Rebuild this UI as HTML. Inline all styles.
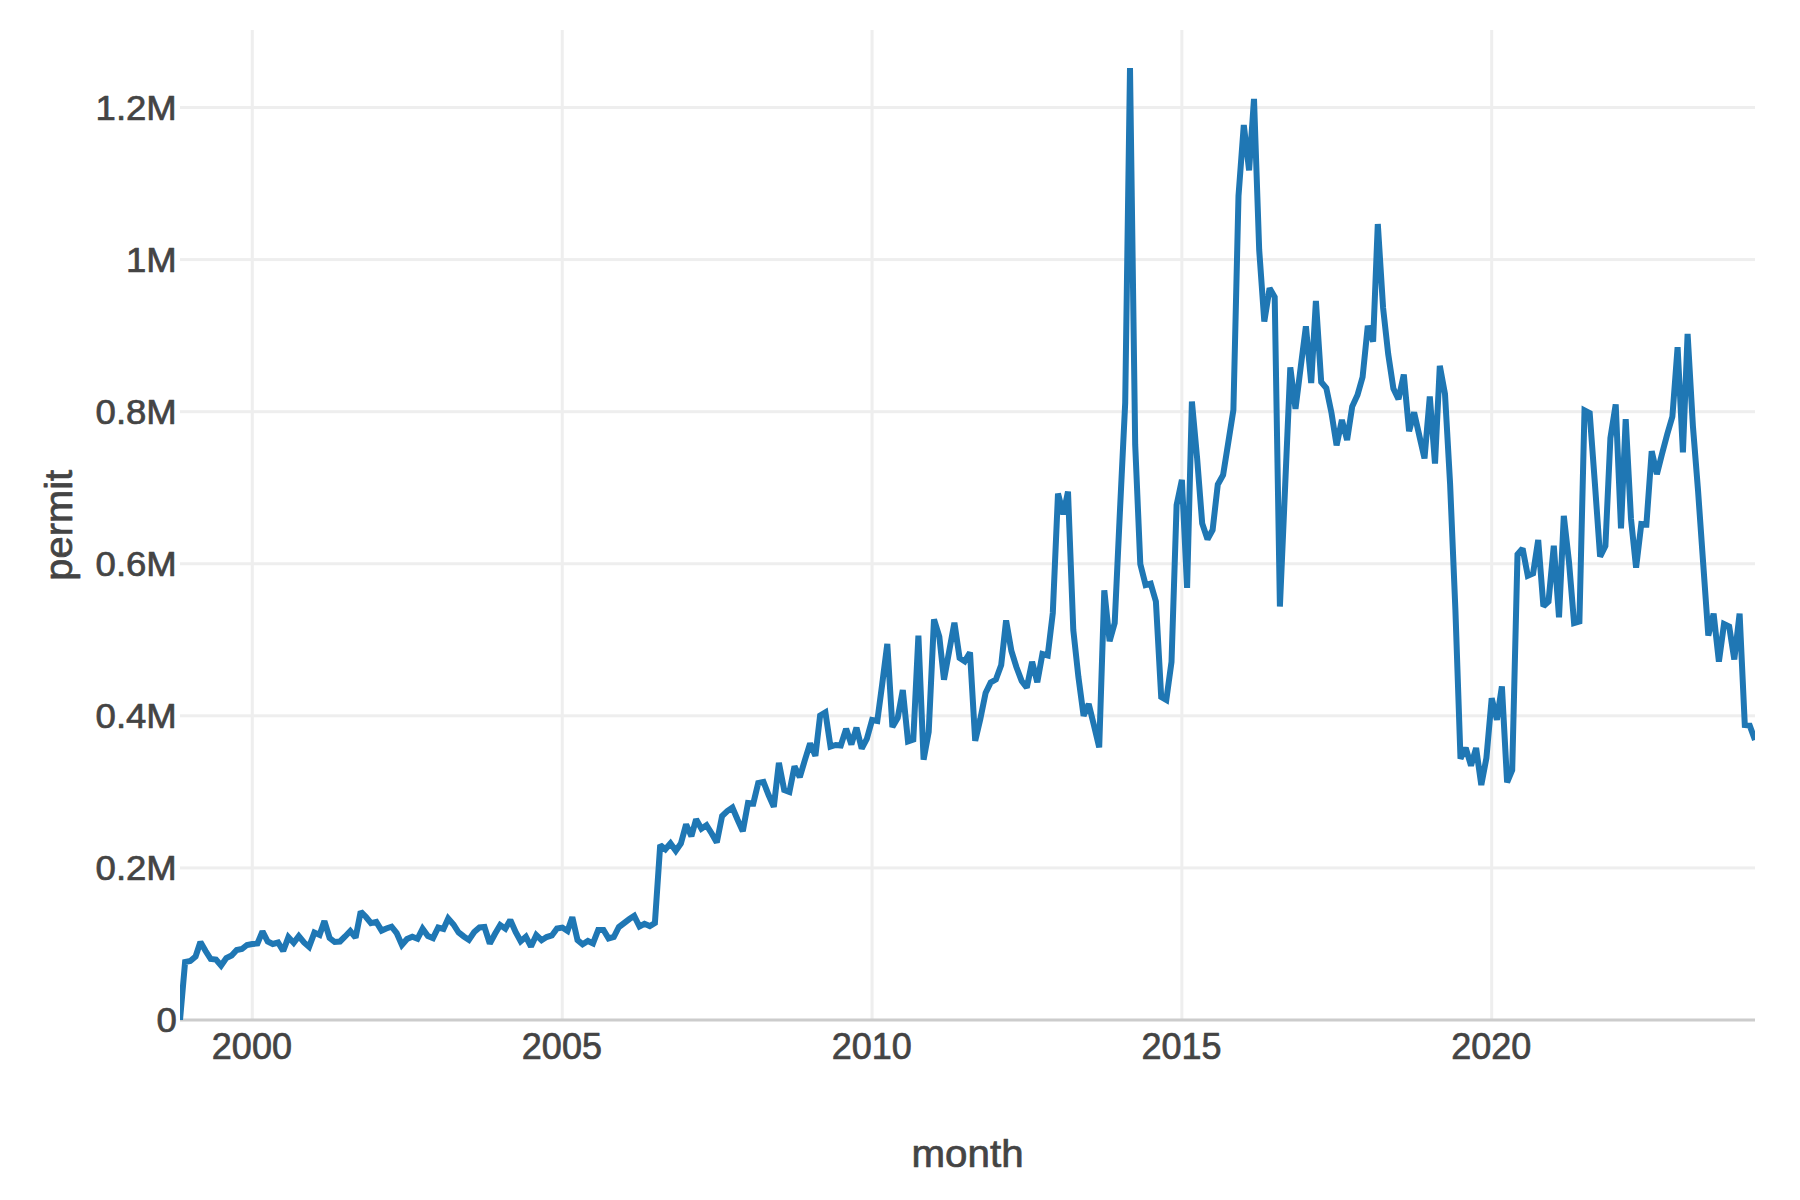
<!DOCTYPE html>
<html><head><meta charset="utf-8"><title>permit by month</title>
<style>
html,body{margin:0;padding:0;background:#fff;}
body{width:1800px;height:1200px;overflow:hidden;}
svg{display:block;}
text{font-family:"Liberation Sans",Arial,Helvetica,sans-serif;fill:#444;stroke:#444;stroke-width:0.7px;stroke-linejoin:round;}
.tick text{font-size:36px;}
.title text{font-size:39px;}
</style></head><body>
<svg width="1800" height="1200" viewBox="0 0 1800 1200">
<rect width="1800" height="1200" fill="#fff"/>
<g class="grid"><rect x="250.78" y="30" width="3" height="990" fill="#eee"/><rect x="560.76" y="30" width="3" height="990" fill="#eee"/><rect x="870.56" y="30" width="3" height="990" fill="#eee"/><rect x="1180.37" y="30" width="3" height="990" fill="#eee"/><rect x="1490.18" y="30" width="3" height="990" fill="#eee"/><rect x="180" y="866.42" width="1575" height="3" fill="#eee"/><rect x="180" y="714.33" width="1575" height="3" fill="#eee"/><rect x="180" y="562.25" width="1575" height="3" fill="#eee"/><rect x="180" y="410.17" width="1575" height="3" fill="#eee"/><rect x="180" y="258.08" width="1575" height="3" fill="#eee"/><rect x="180" y="106.00" width="1575" height="3" fill="#eee"/></g>
<rect x="180" y="1018.5" width="1575" height="3" fill="#ccc"/>
<defs><clipPath id="c"><rect x="180" y="30" width="1575" height="990"/></clipPath></defs>
<g clip-path="url(#c)"><polyline fill="none" stroke="#1f77b4" stroke-width="6" stroke-linejoin="miter" stroke-miterlimit="2" points="180.0,1020.0 185.1,962.0 190.3,961.0 195.6,956.5 200.4,942.0 205.6,951.0 210.7,959.0 216.0,959.5 221.1,965.5 226.3,958.0 231.6,955.5 236.7,950.0 241.9,949.0 247.0,945.0 252.3,944.0 257.5,943.5 262.5,931.4 267.7,941.5 272.8,944.0 278.1,942.5 283.2,951.0 288.4,937.1 293.7,942.9 298.8,936.2 304.0,942.5 309.1,946.9 314.4,932.6 319.6,935.0 324.4,921.1 329.6,938.0 334.7,942.0 340.0,941.5 345.1,936.5 350.3,931.0 355.6,937.6 360.7,911.6 366.0,917.0 371.0,923.1 376.3,921.9 381.6,930.6 386.3,928.5 391.6,926.7 396.7,933.0 401.9,945.0 407.0,939.0 412.3,936.8 417.5,938.8 422.6,928.8 427.9,936.0 433.0,938.1 438.2,927.5 443.5,929.0 448.2,918.5 453.5,924.5 458.6,932.5 463.8,936.5 468.9,939.9 474.2,932.0 479.5,927.5 484.5,927.0 489.8,943.6 494.9,934.0 500.2,925.0 505.4,928.6 510.3,920.0 515.6,932.0 520.7,941.3 525.9,936.8 531.0,946.6 536.3,935.1 541.6,940.2 546.6,937.0 551.9,935.5 557.0,928.5 562.3,927.6 567.5,931.0 572.3,917.2 577.5,940.0 582.6,944.3 587.9,941.0 593.0,943.4 598.2,930.0 603.5,930.0 608.6,938.5 613.8,937.0 618.9,927.0 624.2,923.0 629.4,919.0 634.2,915.9 639.5,926.5 644.5,923.8 649.8,926.1 654.9,923.0 660.2,845.0 665.4,849.3 670.5,843.4 675.8,850.8 680.9,843.5 686.1,824.4 691.4,836.3 696.1,819.2 701.4,828.7 706.5,825.2 711.7,833.5 716.8,842.5 722.1,816.0 727.3,811.0 732.4,807.5 737.7,820.0 742.8,831.2 748.0,803.0 753.3,803.5 758.2,783.0 763.5,782.0 768.6,795.0 773.8,806.8 778.9,762.8 784.2,790.0 789.4,792.0 794.5,766.4 799.8,777.2 804.9,760.0 810.1,743.4 815.4,755.9 820.1,715.5 825.4,712.4 830.5,746.6 835.8,745.0 840.8,745.5 846.1,728.8 851.4,744.5 856.5,727.6 861.7,748.6 866.8,739.0 872.1,720.0 877.3,721.0 882.1,685.0 887.3,643.9 892.4,727.0 897.7,718.0 902.8,690.0 908.0,741.4 913.3,739.5 918.4,635.6 923.6,759.6 928.7,732.0 934.0,619.4 939.3,636.5 944.0,679.6 949.3,650.5 954.4,622.8 959.6,658.0 964.7,661.3 970.0,652.5 975.2,740.8 980.3,719.0 985.6,693.0 990.7,682.5 995.9,679.5 1001.2,665.0 1006.1,620.4 1011.4,651.0 1016.4,667.0 1021.7,681.0 1026.8,687.7 1032.1,661.8 1037.3,682.2 1042.4,654.0 1047.7,655.5 1052.8,613.0 1058.0,493.6 1063.3,514.2 1068.0,491.6 1073.3,630.0 1078.4,677.0 1083.6,715.8 1088.7,704.0 1094.0,725.5 1099.2,747.3 1104.3,590.3 1109.6,641.2 1114.7,623.0 1119.9,512.0 1125.2,403.0 1130.0,68.0 1135.2,445.0 1140.3,564.0 1145.6,585.0 1150.7,583.6 1155.9,601.5 1161.2,697.0 1166.3,700.0 1171.5,662.0 1176.6,505.0 1181.9,479.8 1187.1,587.9 1191.9,401.6 1197.1,458.0 1202.2,523.5 1207.5,539.2 1212.6,530.0 1217.8,484.5 1223.1,475.0 1228.2,443.0 1233.4,410.0 1238.5,196.0 1243.8,125.0 1249.1,170.3 1254.0,98.9 1259.2,250.0 1264.3,321.6 1269.6,288.2 1274.7,297.0 1279.9,606.5 1285.2,485.0 1290.3,367.4 1295.5,408.9 1300.6,368.0 1305.9,326.4 1311.2,383.0 1315.9,301.0 1321.2,382.0 1326.3,388.0 1331.5,413.0 1336.6,445.4 1341.9,419.9 1347.1,440.1 1352.2,406.5 1357.5,395.0 1362.6,377.0 1367.8,325.9 1373.1,341.6 1377.8,224.0 1383.1,308.0 1388.2,354.0 1393.4,388.5 1398.5,399.2 1403.8,374.6 1409.1,431.2 1414.1,412.3 1419.4,436.0 1424.5,458.4 1429.8,396.6 1435.0,463.6 1439.8,365.8 1445.0,394.0 1450.1,484.0 1455.4,610.0 1460.5,758.7 1465.7,747.8 1471.0,765.6 1476.1,748.0 1481.3,785.0 1486.4,758.0 1491.7,698.2 1496.9,719.8 1501.9,686.5 1507.1,782.4 1512.2,770.0 1517.5,554.5 1522.6,548.5 1527.8,575.8 1533.1,573.5 1538.2,540.0 1543.4,606.3 1548.5,601.5 1553.8,545.8 1559.0,617.3 1563.8,515.9 1569.0,562.0 1574.1,623.0 1579.4,621.5 1584.5,410.5 1589.7,413.2 1595.0,485.0 1600.1,556.6 1605.4,546.0 1610.4,438.0 1615.7,404.4 1621.0,528.4 1625.7,419.1 1631.0,519.0 1636.1,567.6 1641.3,524.0 1646.4,524.5 1651.7,451.1 1656.9,474.2 1662.0,454.0 1667.3,434.0 1672.4,416.5 1677.6,347.1 1682.9,452.4 1687.6,333.9 1692.9,426.0 1698.0,490.0 1703.3,565.0 1708.3,635.6 1713.6,613.7 1718.9,661.6 1724.0,624.0 1729.2,626.5 1734.3,659.5 1739.6,613.6 1744.8,725.0 1749.7,725.5 1755.0,740.0"/></g>
<g class="tick"><text transform="translate(176.8,1032.3) scale(1.015,1)" text-anchor="end">0</text><text transform="translate(176.8,880.2) scale(1.015,1)" text-anchor="end">0.2M</text><text transform="translate(176.8,728.1) scale(1.015,1)" text-anchor="end">0.4M</text><text transform="translate(176.8,576.0) scale(1.015,1)" text-anchor="end">0.6M</text><text transform="translate(176.8,424.0) scale(1.015,1)" text-anchor="end">0.8M</text><text transform="translate(176.8,271.9) scale(1.015,1)" text-anchor="end">1M</text><text transform="translate(176.8,119.8) scale(1.015,1)" text-anchor="end">1.2M</text><text transform="translate(251.9,1059.2)" text-anchor="middle">2000</text><text transform="translate(561.9,1059.2)" text-anchor="middle">2005</text><text transform="translate(871.7,1059.2)" text-anchor="middle">2010</text><text transform="translate(1181.5,1059.2)" text-anchor="middle">2015</text><text transform="translate(1491.3,1059.2)" text-anchor="middle">2020</text></g>
<g class="title"><text transform="translate(967.5,1167) scale(1.035,1)" text-anchor="middle">month</text>
<text transform="translate(71.7,525.3) rotate(-90) scale(1.022,1)" text-anchor="middle">permit</text></g>
</svg>
</body></html>
